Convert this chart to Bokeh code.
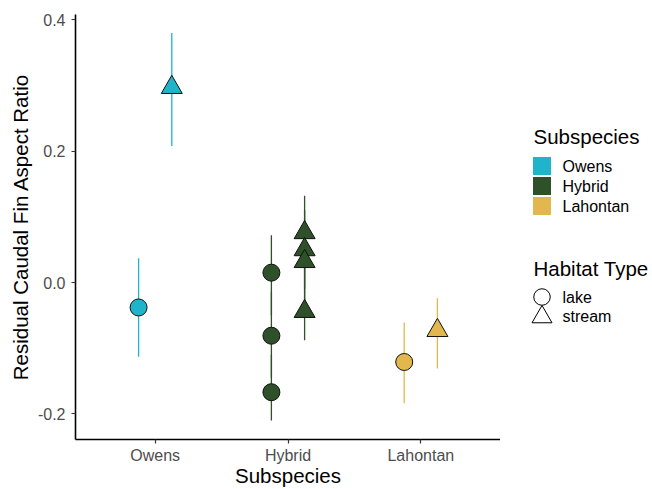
from bokeh.plotting import figure
from bokeh.layouts import row
from bokeh.models import Range1d, FixedTicker, NumeralTickFormatter
from bokeh.core.properties import value
from bokeh.embed import file_html
from bokeh.resources import INLINE

# ---- data ----
subspecies = ["Owens", "Hybrid", "Lahontan"]
sub_colors = ["#1FB4C9", "#2F5129", "#E2B84E"]
habitats = ["lake", "stream"]
habitat_markers = ["circle", "triangle"]
habitat_offsets = [-0.125, 0.125]
y_ticks = [-0.2, 0.0, 0.2, 0.4]
legend_titles = ["Subspecies", "Habitat Type"]

pt_sub = ["Owens", "Owens", "Hybrid", "Hybrid", "Hybrid", "Hybrid", "Hybrid", "Hybrid", "Hybrid", "Lahontan", "Lahontan"]
pt_hab = ["lake", "stream", "lake", "lake", "lake", "stream", "stream", "stream", "stream", "lake", "stream"]
pt_mean = [-0.038, 0.297, 0.015, -0.081, -0.167, 0.076, 0.050, 0.032, -0.044, -0.121, -0.073]
pt_lo = [-0.113, 0.208, -0.050, -0.145, -0.210, 0.010, -0.010, -0.030, -0.088, -0.184, -0.131]
pt_hi = [0.037, 0.380, 0.072, -0.015, -0.110, 0.132, 0.110, 0.095, 0.010, -0.061, -0.024]

FONT = "Liberation Sans"
H = 489
FT, FB = 14, 439   # frame top / bottom in pixels

p = figure(width=500, height=H, output_backend="svg", toolbar_location=None,
           x_range=Range1d(0.4, 3.6), y_range=Range1d(-0.239, 0.408),
           min_border_left=75, min_border_right=0, min_border_top=FT, min_border_bottom=H - FB)
p.outline_line_color = None
p.grid.visible = False

# error bars and points
for sub, col in zip(subspecies, sub_colors):
    for hab, mk, off in zip(habitats, habitat_markers, habitat_offsets):
        idx = [i for i in range(len(pt_sub)) if pt_sub[i] == sub and pt_hab[i] == hab]
        if not idx:
            continue
        xs = [subspecies.index(sub) + 1 + off for _ in idx]
        p.segment(x0=xs, x1=xs, y0=[pt_lo[i] for i in idx], y1=[pt_hi[i] for i in idx],
                  line_color=col, line_width=1.3)
for sub, col in zip(subspecies, sub_colors):
    for hab, mk, off in zip(habitats, habitat_markers, habitat_offsets):
        idx = [i for i in range(len(pt_sub)) if pt_sub[i] == sub and pt_hab[i] == hab]
        if not idx:
            continue
        xs = [subspecies.index(sub) + 1 + off for _ in idx]
        p.scatter(x=xs, y=[pt_mean[i] for i in idx], marker=mk,
                  size=17 if mk == "circle" else 21,
                  fill_color=col, line_color="#111111", line_width=1)

# axes
p.xaxis.ticker = FixedTicker(ticks=[1, 2, 3])
p.xaxis.major_label_overrides = {i + 1: s for i, s in enumerate(subspecies)}
p.yaxis.ticker = FixedTicker(ticks=y_ticks)
p.yaxis.formatter = NumeralTickFormatter(format="0.0")
for ax in (p.xaxis, p.yaxis):
    ax.axis_line_color = "black"
    ax.axis_line_width = 1.6
    ax.major_tick_line_color = "#333333"
    ax.major_tick_line_width = 1.2
    ax.major_tick_out = 4
    ax.major_tick_in = 0
    ax.minor_tick_line_color = None
    ax.major_label_text_font = FONT
    ax.major_label_text_font_size = "16px"
    ax.major_label_text_color = "#4D4D4D"
    ax.axis_label_text_font = FONT
    ax.axis_label_text_font_size = "20.5px"
    ax.axis_label_text_font_style = "normal"
    ax.axis_label_text_color = "black"
p.xaxis.major_label_standoff = 3
p.yaxis.major_label_standoff = 6
p.xaxis.axis_label = "Subspecies"
p.yaxis.axis_label = "Residual Caudal Fin Aspect Ratio"
p.xaxis.axis_label_standoff = -3
p.yaxis.axis_label_standoff = 3

# legend panel (its frame is aligned with the main frame; y runs downward in pixels)
LW = 152
lf = figure(width=LW, height=H, output_backend="svg", toolbar_location=None,
            x_range=Range1d(0, LW), y_range=Range1d(FB, FT),
            min_border_left=0, min_border_right=0, min_border_top=FT, min_border_bottom=H - FB)
lf.axis.visible = False
lf.grid.visible = False
lf.outline_line_color = None

gx = 41.5          # glyph centre
tx = 62            # label left
sub_rows = [165.5, 185.5, 205.5]
hab_rows = [296.5, 315.5]

lf.text(x=[33, 33], y=[135.5, 267.5], text=legend_titles, text_font=value(FONT),
        text_font_size="20.5px", text_color="black", text_baseline="middle")
lf.scatter(x=[gx] * len(subspecies), y=sub_rows, marker="square", size=18,
           fill_color=sub_colors, line_color=None)
lf.text(x=[tx] * len(subspecies), y=sub_rows, text=subspecies, text_font=value(FONT),
        text_font_size="16px", text_color="black", text_baseline="middle")
lf.scatter(x=[gx], y=[hab_rows[0]], marker="circle", size=16.5,
           fill_color=None, line_color="black", line_width=1)
lf.scatter(x=[gx], y=[hab_rows[1] + 1], marker="triangle", size=20,
           fill_color=None, line_color="black", line_width=1)
lf.text(x=[tx] * len(habitats), y=hab_rows, text=habitats, text_font=value(FONT),
        text_font_size="16px", text_color="black", text_baseline="middle")

layout = row(p, lf)
open("out.html", "w").write(file_html(layout, INLINE))
